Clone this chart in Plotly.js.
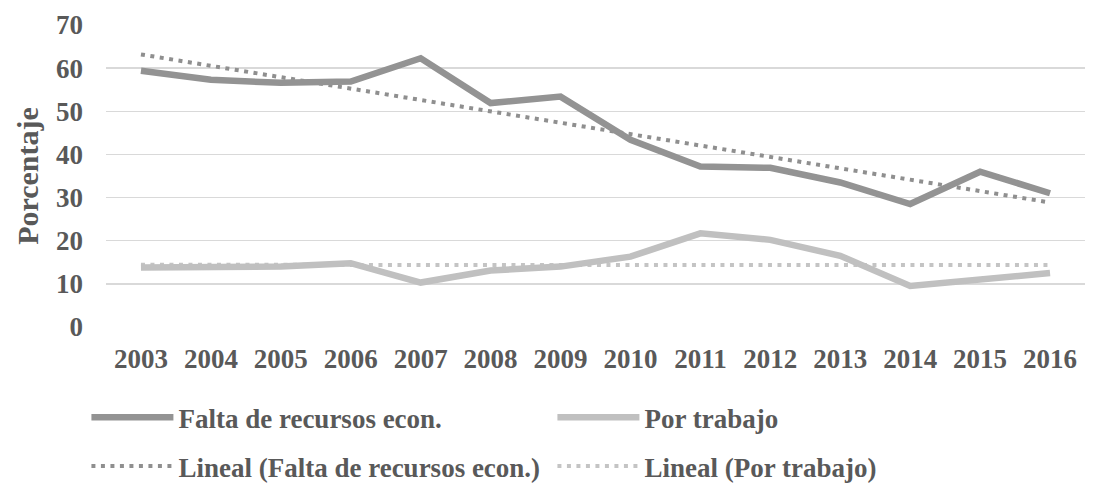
<!DOCTYPE html>
<html>
<head>
<meta charset="utf-8">
<script src="https://cdn.plot.ly/plotly-3.0.1.min.js"></script>
<style>html,body{margin:0;padding:0;background:#fff;}#chart{width:1118px;height:494px;}</style>
</head>
<body>
<div id="chart"></div>
<script>
const years = ["2003","2004","2005","2006","2007","2008","2009","2010","2011","2012","2013","2014","2015","2016"];
const faltaRecursos = [59.4, 57.3, 56.6, 56.9, 62.3, 51.9, 53.4, 43.4, 37.2, 36.9, 33.5, 28.5, 36.0, 31.0];
const porTrabajo = [13.8, 13.9, 14.0, 14.8, 10.3, 13.1, 14.0, 16.3, 21.7, 20.2, 16.5, 9.5, 10.9, 12.5];
const yTicks = [0, 10, 20, 30, 40, 50, 60, 70];

function linearTrend(vals) {
  const n = vals.length;
  let sx = 0, sy = 0, sxx = 0, sxy = 0;
  for (let i = 0; i < n; i++) { const x = i + 1; sx += x; sy += vals[i]; sxx += x * x; sxy += x * vals[i]; }
  const b = (n * sxy - sx * sy) / (n * sxx - sx * sx);
  const a = (sy - b * sx) / n;
  return vals.map((_, i) => a + b * (i + 1));
}

const fontFam = 'Liberation Serif';
const txtCol = '#595959';
const dark = '#939393';
const light = '#c0c0c0';

function buildTraces() {
  const t = [
    {x: years, y: faltaRecursos, type: 'scatter', mode: 'lines', name: 'Falta de recursos econ.',
     line: {color: dark, width: 6.5}, legend: 'legend'},
    {x: years, y: porTrabajo, type: 'scatter', mode: 'lines', name: 'Por trabajo',
     line: {color: light, width: 6.5}, legend: 'legend'},
    {x: years, y: linearTrend(faltaRecursos), type: 'scatter', mode: 'lines', name: 'Lineal (Falta de recursos econ.)',
     line: {color: '#8f8f8f', width: 4, dash: '4px,5.5px'}, legend: 'legend2'},
    {x: years, y: linearTrend(porTrabajo), type: 'scatter', mode: 'lines', name: 'Lineal (Por trabajo)',
     line: {color: '#c4c4c4', width: 4, dash: '4px,5.5px'}, legend: 'legend2'}
  ];
  return [t[2], t[3], t[0], t[1]];
}

function f(s) { return {family: fontFam, size: s || 27, color: txtCol, weight: 'bold'}; }
function buildLayout() {
  return {
    width: 1118, height: 494,
    margin: {l: 106, r: 33, t: 25, b: 167, autoexpand: false},
    paper_bgcolor: '#ffffff', plot_bgcolor: '#ffffff',
    font: f(),
    xaxis: {
      type: 'category', range: [-0.5, 13.5], showgrid: false, zeroline: false, showline: false,
      ticks: '', ticklabelstandoff: 13, tickfont: f()
    },
    yaxis: {
      range: [0, 70], tickvals: yTicks, ticktext: yTicks.map(String), showgrid: true, gridcolor: '#d9d9d9', gridwidth: 1.5,
      zeroline: false, showline: false, ticks: '', ticklabelstandoff: 22,
      tickfont: f(),
      title: {text: 'Porcentaje', standoff: 8, font: f(30)}
    },
    showlegend: true,
    legend: {orientation: 'h', x: -0.020, xanchor: 'left', y: -0.300, yanchor: 'middle', font: f(),
      itemwidth: 82, entrywidth: 369, traceorder: 'normal', bgcolor: 'rgba(0,0,0,0)'},
    legend2: {orientation: 'h', x: -0.020, xanchor: 'left', y: -0.462, yanchor: 'middle', font: f(),
      itemwidth: 82, entrywidth: 369, traceorder: 'normal', bgcolor: 'rgba(0,0,0,0)'}
  };
}

function draw() { Plotly.newPlot('chart', buildTraces(), buildLayout(), {displayModeBar: false, staticPlot: true}); }
draw();
if (document.fonts && document.fonts.load) {
  Promise.all([
    document.fonts.load('bold 27px "Liberation Serif"'),
    document.fonts.load('27px "Liberation Serif"')
  ]).then(draw, draw);
}
</script>
</body>
</html>
